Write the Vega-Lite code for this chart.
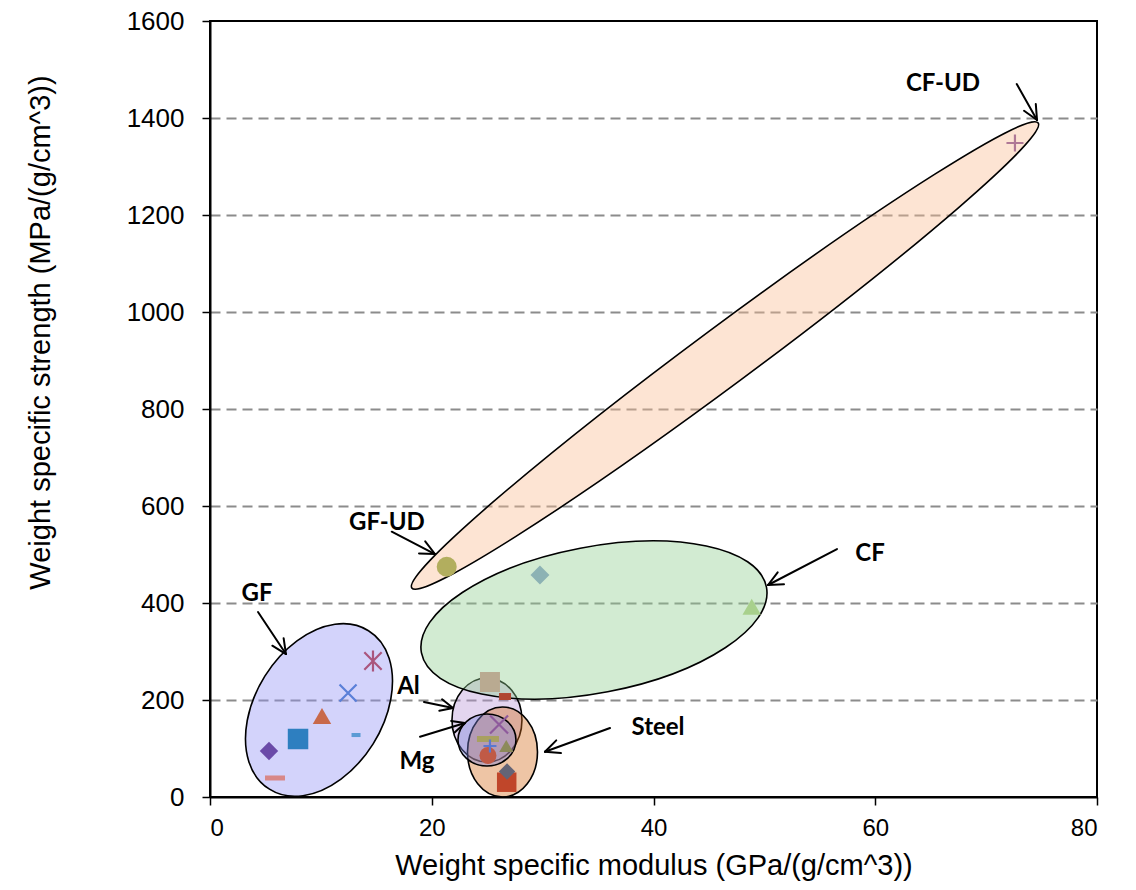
{
  "$schema": "https://vega.github.io/schema/vega-lite/v6.json",
  "width": 887,
  "height": 776,
  "autosize": {"type": "none"},
  "padding": {"left": 210, "top": 21, "right": 39, "bottom": 93},
  "background": "white",
  "config": {
    "view": {"stroke": "black", "strokeWidth": 2},
    "font": "Liberation Sans"
  },
  "datasets": {
    "regions": [
      {"region": "Al", "x": 24.98, "y": 158.8},
      {"region": "Steel", "x": 26.38, "y": 92.8},
      {"region": "Mg", "x": 24.98, "y": 117.5},
      {"region": "GF", "x": 9.83, "y": 179.4},
      {"region": "CF", "x": 34.63, "y": 364.9},
      {"region": "CF-UD", "x": 46.45, "y": 910.3}
    ],
    "points": [
      {"series": "GF-1", "group": "GF", "x": 5.32, "y": 94.8},
      {"series": "GF-2", "group": "GF", "x": 5.86, "y": 39.2},
      {"series": "GF-3", "group": "GF", "x": 7.94, "y": 119.6},
      {"series": "GF-4", "group": "GF", "x": 10.1, "y": 167.0},
      {"series": "GF-5", "group": "GF", "x": 13.17, "y": 127.8},
      {"series": "CF-1", "group": "CF", "x": 29.76, "y": 457.7},
      {"series": "CF-2", "group": "CF", "x": 48.86, "y": 392.4},
      {"series": "CF-UD-1", "group": "CF-UD", "x": 21.35, "y": 474.8},
      {"series": "Al-1", "group": "Al", "x": 25.25, "y": 237.1},
      {"series": "Al-2", "group": "Al", "x": 26.61, "y": 207.2},
      {"series": "Mg-1", "group": "Mg", "x": 25.07, "y": 119.6},
      {"series": "Mg-2", "group": "Mg", "x": 25.07, "y": 85.6},
      {"series": "Steel-1", "group": "Steel", "x": 26.72, "y": 105.2},
      {"series": "Steel-2", "group": "Steel", "x": 26.76, "y": 30.5},
      {"series": "Steel-3", "group": "Steel", "x": 26.79, "y": 52.6},
      {"series": "GF-6", "group": "GF", "x": 12.45, "y": 214.4},
      {"series": "GF-7", "group": "GF", "x": 14.7, "y": 280.4},
      {"series": "CF-UD-2", "group": "CF-UD", "x": 72.6, "y": 1348.5},
      {"series": "Al-3", "group": "Al", "x": 26.07, "y": 149.5},
      {"series": "Mg-3", "group": "Mg", "x": 25.25, "y": 105.2}
    ],
    "arrows": [
      {"label": "CF-UD", "part": "shaft", "x": 72.76, "y": 1470.1, "x2": 74.59, "y2": 1395.9},
      {"label": "CF-UD", "part": "barb1", "x": 74.48, "y": 1428.9, "x2": 74.59, "y2": 1395.9},
      {"label": "CF-UD", "part": "barb2", "x": 73.42, "y": 1415.0, "x2": 74.59, "y2": 1395.9},
      {"label": "GF-UD", "part": "shaft", "x": 16.39, "y": 547.0, "x2": 20.29, "y2": 501.0},
      {"label": "GF-UD", "part": "barb1", "x": 19.41, "y": 527.2, "x2": 20.29, "y2": 501.0},
      {"label": "GF-UD", "part": "barb2", "x": 18.85, "y": 502.3, "x2": 20.29, "y2": 501.0},
      {"label": "CF", "part": "shaft", "x": 56.55, "y": 511.3, "x2": 50.33, "y2": 437.1},
      {"label": "CF", "part": "barb1", "x": 51.77, "y": 438.6, "x2": 50.33, "y2": 437.1},
      {"label": "CF", "part": "barb2", "x": 51.2, "y": 463.3, "x2": 50.33, "y2": 437.1},
      {"label": "GF", "part": "shaft", "x": 4.33, "y": 381.4, "x2": 6.85, "y2": 294.8},
      {"label": "GF", "part": "barb1", "x": 6.64, "y": 327.4, "x2": 6.85, "y2": 294.8},
      {"label": "GF", "part": "barb2", "x": 5.62, "y": 312.0, "x2": 6.85, "y2": 294.8},
      {"label": "Al", "part": "shaft", "x": 19.3, "y": 195.9, "x2": 21.92, "y2": 183.5},
      {"label": "Al", "part": "barb1", "x": 20.93, "y": 201.4, "x2": 21.92, "y2": 183.5},
      {"label": "Al", "part": "barb2", "x": 20.68, "y": 177.7, "x2": 21.92, "y2": 183.5},
      {"label": "Mg", "part": "shaft", "x": 18.94, "y": 124.3, "x2": 23.0, "y2": 152.6},
      {"label": "Mg", "part": "barb1", "x": 21.75, "y": 156.7, "x2": 23.0, "y2": 152.6},
      {"label": "Mg", "part": "barb2", "x": 22.06, "y": 133.2, "x2": 23.0, "y2": 152.6},
      {"label": "Steel", "part": "shaft", "x": 36.08, "y": 142.3, "x2": 30.21, "y2": 93.4},
      {"label": "Steel", "part": "barb1", "x": 31.65, "y": 90.5, "x2": 30.21, "y2": 93.4},
      {"label": "Steel", "part": "barb2", "x": 31.23, "y": 116.7, "x2": 30.21, "y2": 93.4}
    ],
    "labels": [
      {"label": "CF-UD", "x": 66.11, "y": 1470.1},
      {"label": "GF-UD", "x": 15.96, "y": 564.9},
      {"label": "CF", "x": 59.53, "y": 501.0},
      {"label": "GF", "x": 4.24, "y": 418.6},
      {"label": "Al", "x": 17.9, "y": 227.8},
      {"label": "Mg", "x": 18.67, "y": 72.2},
      {"label": "Steel", "x": 40.41, "y": 142.3}
    ]
  },
  "resolve": {"scale": {"color": "independent", "shape": "independent", "size": "independent"}},
  "layer": [
    {
      "data": {"name": "regions"},
      "mark": {"type": "point", "filled": true, "opacity": 1, "fillOpacity": 0.4, "stroke": "black", "strokeWidth": 1.6, "strokeOpacity": 1, "size": 4},
      "encoding": {
        "x": {
          "field": "x", "type": "quantitative",
          "scale": {"domain": [0, 80], "nice": false, "zero": false},
          "axis": {
            "title": "Weight specific modulus (GPa/(g/cm^3))",
            "values": [0, 20, 40, 60, 80],
            "format": "d",
            "grid": false,
            "tickSize": 8, "tickColor": "black", "tickWidth": 1.5,
            "domainColor": "black", "domainWidth": 2,
            "labelFont": "Liberation Sans", "labelFontSize": 24, "labelColor": "black", "labelPadding": 11,
            "titleFont": "Liberation Sans", "titleFontSize": 29, "titleFontWeight": "normal", "titleColor": "black",
            "titleY": 68, "titleBaseline": "middle"
          }
        },
        "y": {
          "field": "y", "type": "quantitative",
          "scale": {"domain": [0, 1600], "nice": false, "zero": false},
          "axis": {
            "title": "Weight specific strength (MPa/(g/cm^3))",
            "values": [0, 200, 400, 600, 800, 1000, 1200, 1400, 1600],
            "format": "d",
            "grid": true, "gridDash": [10, 6], "gridColor": "#8c8c8c", "gridWidth": 2,
            "gridOpacity": {"condition": {"test": "datum.value == 0 || datum.value == 1600", "value": 0}, "value": 1},
            "tickSize": 8, "tickColor": "black", "tickWidth": 1.5,
            "domainColor": "black", "domainWidth": 2,
            "labelFont": "Liberation Sans", "labelFontSize": 26, "labelColor": "black", "labelPadding": 18,
            "titleFont": "Liberation Sans", "titleFontSize": 29, "titleFontWeight": "normal", "titleColor": "black",
            "titleX": -170, "titleY": 311, "titleBaseline": "middle", "titleAngle": 270
          }
        },
        "shape": {
          "field": "region", "type": "nominal", "legend": null,
          "scale": {
            "domain": ["Al", "Steel", "Mg", "GF", "CF", "CF-UD"],
            "range": [
              "M -35 0 A 35 42 0 1 0 35 0 A 35 42 0 1 0 -35 0 Z",
              "M -35 0 A 35 45 0 1 0 35 0 A 35 45 0 1 0 -35 0 Z",
              "M -29 0 A 29 26 0 1 0 29 0 A 29 26 0 1 0 -29 0 Z",
              "M -49.5 79.2 A 93.4 63.3 -58 1 0 49.5 -79.2 A 93.4 63.3 -58 1 0 -49.5 79.2 Z",
              "M -172.5 32.9 A 175.6 73.1 -10.8 1 0 172.5 -32.9 A 175.6 73.1 -10.8 1 0 -172.5 32.9 Z",
              "M -313.2 232.5 A 390 29 -36.6 1 0 313.2 -232.5 A 390 29 -36.6 1 0 -313.2 232.5 Z"
            ]
          }
        },
        "color": {
          "field": "region", "type": "nominal", "legend": null,
          "scale": {
            "domain": ["Al", "Steel", "Mg", "GF", "CF", "CF-UD"],
            "range": ["#b996d7", "#d46e1e", "#7882dc", "#9191f5", "#8ecd8e", "#fabb91"]
          }
        }
      }
    },
    {
      "data": {"name": "points"},
      "transform": [{"filter": {"field": "series", "oneOf": ["GF-1", "GF-2", "GF-3", "GF-4", "GF-5", "CF-1", "CF-2", "CF-UD-1", "Al-1", "Al-2", "Mg-1", "Mg-2", "Steel-1", "Steel-2", "Steel-3"]}}],
      "mark": {"type": "point", "filled": true, "opacity": 1, "strokeWidth": 0},
      "encoding": {
        "x": {"field": "x", "type": "quantitative"},
        "y": {"field": "y", "type": "quantitative"},
        "shape": {
          "field": "series", "type": "nominal", "legend": null,
          "scale": {
            "domain": ["GF-1", "GF-2", "GF-3", "GF-4", "GF-5", "CF-1", "CF-2", "CF-UD-1", "Al-1", "Al-2", "Mg-1", "Mg-2", "Steel-1", "Steel-2", "Steel-3"],
            "range": [
              "diamond",
              "M -1 -0.25 L 1 -0.25 L 1 0.25 L -1 0.25 Z",
              "square",
              "triangle-up",
              "M -1 -0.45 L 1 -0.45 L 1 0.45 L -1 0.45 Z",
              "diamond",
              "triangle-up",
              "circle",
              "square",
              "M -1 -0.58 L 1 -0.58 L 1 0.58 L -1 0.58 Z",
              "M -1 -0.27 L 1 -0.27 L 1 0.27 L -1 0.27 Z",
              "circle",
              "triangle-up",
              "square",
              "diamond"
            ]
          }
        },
        "color": {
          "field": "series", "type": "nominal", "legend": null,
          "scale": {
            "domain": ["GF-1", "GF-2", "GF-3", "GF-4", "GF-5", "CF-1", "CF-2", "CF-UD-1", "Al-1", "Al-2", "Mg-1", "Mg-2", "Steel-1", "Steel-2", "Steel-3"],
            "range": ["#6a4aa8", "#d88787", "#2e7fc0", "#c8694a", "#5b9bd5", "#8cb2b4", "#a8d08c", "#b2ae5e", "#b9aa91", "#b04632", "#a8a060", "#c05a46", "#8c8a5a", "#c0462a", "#646476"]
          }
        },
        "size": {
          "field": "series", "type": "nominal", "legend": null,
          "scale": {
            "type": "ordinal",
            "domain": ["GF-1", "GF-2", "GF-3", "GF-4", "GF-5", "CF-1", "CF-2", "CF-UD-1", "Al-1", "Al-2", "Mg-1", "Mg-2", "Steel-1", "Steel-2", "Steel-3"],
            "range": [340, 400, 420, 340, 81, 360, 340, 400, 400, 144, 484, 289, 196, 380, 270]
          }
        }
      }
    },
    {
      "data": {"name": "points"},
      "transform": [{"filter": {"field": "series", "oneOf": ["GF-6", "GF-7", "CF-UD-2", "Al-3", "Mg-3"]}}],
      "mark": {"type": "point", "filled": false, "opacity": 1, "strokeWidth": 2.2},
      "encoding": {
        "x": {"field": "x", "type": "quantitative"},
        "y": {"field": "y", "type": "quantitative"},
        "shape": {
          "field": "series", "type": "nominal", "legend": null,
          "scale": {
            "domain": ["GF-6", "GF-7", "CF-UD-2", "Al-3", "Mg-3"],
            "range": [
              "M -1 -1 L 1 1 M -1 1 L 1 -1",
              "M -1 -1 L 1 1 M -1 1 L 1 -1 M 0 -1.2 L 0 1.2",
              "M -1 0 L 1 0 M 0 -1 L 0 1",
              "M -1 -1 L 1 1 M -1 1 L 1 -1",
              "M -1 0 L 1 0 M 0 -1 L 0 1"
            ]
          }
        },
        "color": {
          "field": "series", "type": "nominal", "legend": null,
          "scale": {
            "domain": ["GF-6", "GF-7", "CF-UD-2", "Al-3", "Mg-3"],
            "range": ["#5a7fd8", "#aa557d", "#af7896", "#8e5a9c", "#5a78d0"]
          }
        },
        "size": {
          "field": "series", "type": "nominal", "legend": null,
          "scale": {
            "type": "ordinal",
            "domain": ["GF-6", "GF-7", "CF-UD-2", "Al-3", "Mg-3"],
            "range": [289, 300, 289, 324, 169]
          }
        }
      }
    },
    {
      "data": {"name": "arrows"},
      "mark": {"type": "rule", "color": "black", "strokeWidth": 2, "strokeCap": "round"},
      "encoding": {
        "x": {"field": "x", "type": "quantitative"},
        "y": {"field": "y", "type": "quantitative"},
        "x2": {"field": "x2"},
        "y2": {"field": "y2"}
      }
    },
    {
      "data": {"name": "labels"},
      "mark": {"type": "text", "font": "Lato", "fontWeight": "bold", "fontSize": 24, "color": "black", "align": "center", "baseline": "middle"},
      "encoding": {
        "x": {"field": "x", "type": "quantitative"},
        "y": {"field": "y", "type": "quantitative"},
        "text": {"field": "label"}
      }
    }
  ]
}
